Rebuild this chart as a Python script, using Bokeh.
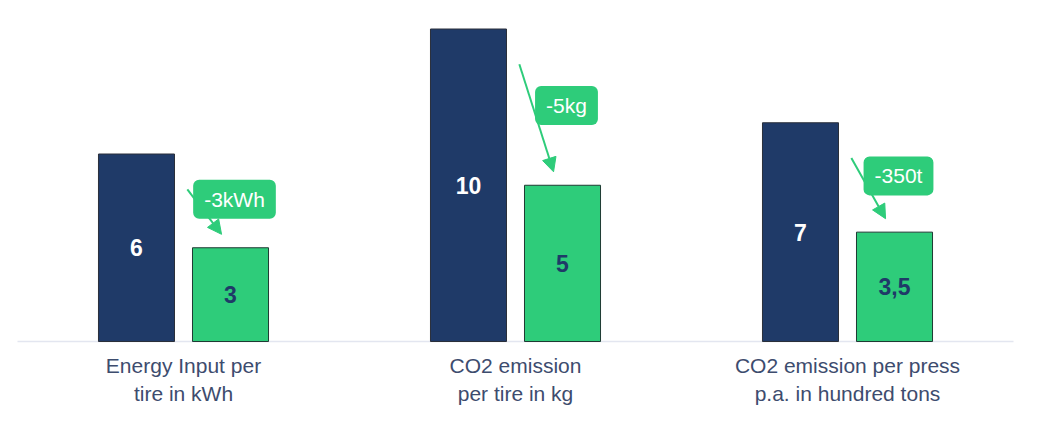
from bokeh.plotting import figure
from bokeh.models import Range1d, Label, Arrow, NormalHead, ColumnDataSource
from bokeh.core.properties import value
from bokeh.embed import file_html
from bokeh.resources import INLINE

# ---- data ----
categories = [
    "Energy Input per\ntire in kWh",
    "CO2 emission\nper tire in kg",
    "CO2 emission per press\np.a. in hundred tons",
]
before_values = [6, 10, 7]
after_values = [3, 5, 3.5]
before_labels = ["6", "10", "7"]
after_labels = ["3", "5", "3,5"]
delta_labels = ["-3kWh", "-5kg", "-350t"]

# ---- style ----
NAVY = "#1f3a68"
GREEN = "#2ecc7a"
TEXT = "#3d4c6e"
FONT = "Liberation Sans"
W, H = 1030, 412
LEFT = 17      # px of first category edge
BASE = 341     # px of baseline from top
XS = 332.0     # px per category
YS = 31.25     # px per unit
OFF = 0.1416
BW = 0.229

n = len(categories)
xc = [i + 0.5 for i in range(n)]
x_before = [x - OFF for x in xc]
x_after = [x + OFF for x in xc]

p = figure(width=W, height=H, output_backend="svg", toolbar_location=None,
           x_axis_location=None, y_axis_location=None,
           x_range=Range1d(-LEFT / XS, (W - LEFT) / XS),
           y_range=Range1d(-(H - BASE) / YS, BASE / YS),
           min_border=0, min_border_left=0, min_border_right=0,
           min_border_top=0, min_border_bottom=0)
p.outline_line_color = None
p.grid.visible = False
p.background_fill_color = "white"

# baseline
p.segment(x0=[0], y0=[0], x1=[n], y1=[0], line_color="#e3e6f0", line_width=1.5)

src = ColumnDataSource(dict(
    xb=x_before, xa=x_after, b=before_values, a=after_values,
    bl=before_labels, al=after_labels,
    bm=[v / 2 for v in before_values], am=[v / 2 for v in after_values],
    xc=xc, cat=categories,
))

p.vbar(x="xb", top="b", bottom=0, width=BW, source=src,
       fill_color=NAVY, line_color="#2a2f3a", line_width=1)
p.vbar(x="xa", top="a", bottom=0, width=BW, source=src,
       fill_color=GREEN, line_color="#1f3a33", line_width=1)

p.text(x="xb", y="bm", text="bl", source=src, text_color="white",
       text_font=value(FONT), text_font_style="bold", text_font_size="23px",
       text_align="center", text_baseline="middle")
p.text(x="xa", y="am", text="al", source=src, text_color=NAVY,
       text_font=value(FONT), text_font_style="bold", text_font_size="23px",
       text_align="center", text_baseline="middle")

p.text(x="xc", y=-1.22, text="cat", source=src, text_color=TEXT,
       text_font=value(FONT), text_font_size="21px",
       text_align="center", text_baseline="middle", text_line_height=1.2)

# callouts
for i in range(n):
    gx = x_after[i]
    b, a = before_values[i], after_values[i]
    p.add_layout(Arrow(
        end=NormalHead(size=14, fill_color=GREEN, line_color=GREEN),
        x_start=gx - 0.13, y_start=b - 1.13,
        x_end=gx - 0.027, y_end=a + 0.43,
        line_color=GREEN, line_width=2))
for i in range(n):
    gx = x_after[i]
    b, a = before_values[i], after_values[i]
    mid = (a + b) / 2
    p.add_layout(Label(
        x=gx + 0.012, y=mid + 0.05, text=delta_labels[i],
        text_color="white", text_font=FONT, text_font_size="21px",
        text_align="center", text_baseline="middle",
        background_fill_color=GREEN, background_fill_alpha=1.0,
        border_radius=6,
        padding=dict(left=11, right=11, top=8, bottom=8)))

open("out.html", "w").write(file_html(p, INLINE))
